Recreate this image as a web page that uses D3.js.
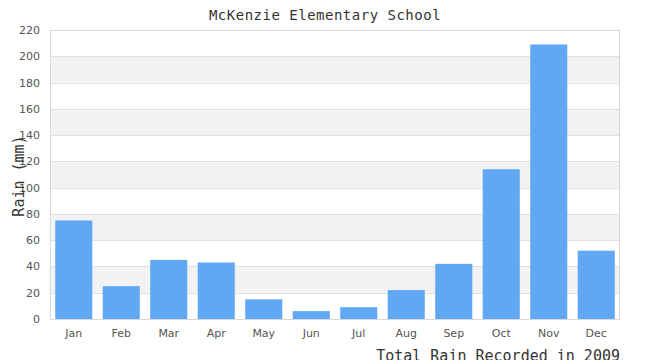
<!DOCTYPE html>
<html><head><meta charset="utf-8">
<script src="https://cdn.jsdelivr.net/npm/d3@7"></script>
<style>body{margin:0;background:#fff}svg{display:block}</style>
</head><body><svg id="c" width="650" height="360"></svg>
<script>
const months = ["Jan","Feb","Mar","Apr","May","Jun","Jul","Aug","Sep","Oct","Nov","Dec"];
const rain = [75,25,45,43,15,6,9,22,42,114,209,52];
const yTicks = [0,20,40,60,80,100,120,140,160,180,200,220];
const title = "McKenzie Elementary School";
const yTitle = "Rain (mm)";
const xTitle = "Total Rain Recorded in 2009";

const svg = d3.select("#c");
const L=50,R=620,T=30,B=319;
const x = d3.scaleBand().domain(months).range([L,R]).paddingInner(0.22).paddingOuter(0.11);
const y = d3.scaleLinear().domain([0,220]).range([B,T]);

// stripes
for(let i=0;i<yTicks.length-1;i++){
  svg.append("rect").attr("x",L).attr("width",R-L)
    .attr("y",y(yTicks[i+1])).attr("height",y(yTicks[i])-y(yTicks[i+1]))
    .attr("fill", i%2===1 ? "#f2f2f2" : "#fff");
}
// grid
svg.append("g").selectAll("line").data(yTicks).join("line")
  .attr("x1",L).attr("x2",R).attr("y1",d=>Math.round(y(d))+0.5).attr("y2",d=>Math.round(y(d))+0.5)
  .attr("stroke","#e0e0e0");
// border
svg.append("rect").attr("x",L+0.5).attr("y",T+0.5).attr("width",R-L-1).attr("height",B-T)
  .attr("fill","none").attr("stroke","#d8d8d8");

// bars
svg.append("g").selectAll("rect").data(months).join("rect")
  .attr("x",d=>x(d)).attr("width",x.bandwidth())
  .attr("y",(d,i)=>y(rain[i])).attr("height",(d,i)=>y(0)-y(rain[i]))
  .attr("fill","#61a8f4");

// y axis
const ya = svg.append("g").attr("transform",`translate(${L},0)`)
  .call(d3.axisLeft(y).tickValues(yTicks).tickSize(0).tickPadding(10));
ya.select(".domain").remove();
ya.selectAll("text").attr("font-family","DejaVu Sans").attr("font-size",11).attr("fill","#555");

const xa = svg.append("g").attr("transform",`translate(0,${B})`)
  .call(d3.axisBottom(x).tickSize(0).tickPadding(10));
xa.select(".domain").remove();
xa.selectAll("text").attr("font-family","DejaVu Sans").attr("font-size",11).attr("fill","#555");

svg.append("text").attr("x",325).attr("y",20).attr("text-anchor","middle")
  .attr("font-family","DejaVu Sans Mono").attr("font-size",14).attr("letter-spacing",0.5)
  .attr("fill","#333").text(title);
svg.append("text").attr("transform","translate(24,176) rotate(-90)").attr("text-anchor","middle")
  .attr("font-family","DejaVu Sans Mono").attr("font-size",15).attr("fill","#333").text(yTitle);
svg.append("text").attr("x",620).attr("y",361).attr("text-anchor","end")
  .attr("font-family","DejaVu Sans Mono").attr("font-size",15).attr("fill","#333").text(xTitle);
</script></body></html>
